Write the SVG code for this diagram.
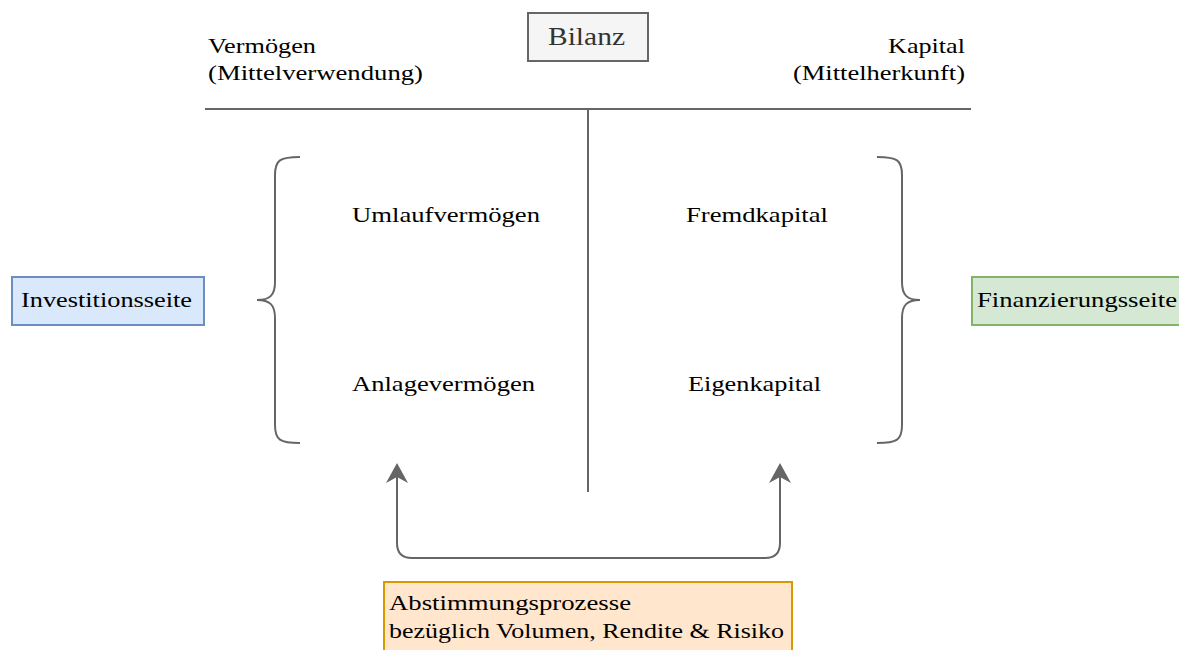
<svg xmlns="http://www.w3.org/2000/svg" width="1179" height="650" viewBox="0 0 1179 650">
<defs>
<style>
.t{font-family:"Liberation Serif","DejaVu Serif",serif;font-size:22px;fill:#000}
.ln{fill:none;stroke:#666;stroke-width:2}
</style>
<marker id="arr" viewBox="0 0 20 22" markerWidth="20" markerHeight="22" refX="13" refY="11" markerUnits="userSpaceOnUse" orient="auto-start-reverse">
<path d="M0,0 L20,11 L0,22 L6,11 z" fill="#666"/>
</marker>
</defs>
<rect width="1179" height="650" fill="#fff"/>
<g id="bilanz">
<rect x="528" y="13" width="120" height="48" fill="#f5f5f5" stroke="#666" stroke-width="2"/>
<text class="t" x="548" y="45" style="font-size:25px;fill:#333" textLength="77" lengthAdjust="spacingAndGlyphs">Bilanz</text>
</g>
<g id="vermoegen">
<text class="t" x="208" y="53" textLength="108" lengthAdjust="spacingAndGlyphs">Vermögen</text>
<text class="t" x="208" y="80" textLength="215" lengthAdjust="spacingAndGlyphs">(Mittelverwendung)</text>
</g>
<g id="kapital">
<text class="t" x="888" y="53" textLength="77" lengthAdjust="spacingAndGlyphs">Kapital</text>
<text class="t" x="793" y="80" textLength="172" lengthAdjust="spacingAndGlyphs">(Mittelherkunft)</text>
</g>
<g id="lines">
<line class="ln" x1="205" y1="109" x2="971" y2="109"/>
<line class="ln" x1="588" y1="109" x2="588" y2="492"/>
</g>
<g id="umlauf"><text class="t" x="352" y="222" textLength="188" lengthAdjust="spacingAndGlyphs">Umlaufvermögen</text></g>
<g id="fremd"><text class="t" x="686" y="222" textLength="142" lengthAdjust="spacingAndGlyphs">Fremdkapital</text></g>
<g id="anlage"><text class="t" x="352" y="391" textLength="183" lengthAdjust="spacingAndGlyphs">Anlagevermögen</text></g>
<g id="eigen"><text class="t" x="688" y="391" textLength="133" lengthAdjust="spacingAndGlyphs">Eigenkapital</text></g>
<g id="brace-left">
<path class="ln" d="M300,157 C280,157 275,160 275,175 L275,282 C275,295 270,300 257,300 C270,300 275,305 275,318 L275,425 C275,440 280,443 300,443"/>
</g>
<g id="brace-right">
<path class="ln" d="M877,157 C897,157 902,160 902,175 L902,282 C902,295 907,300 920,300 C907,300 902,305 902,318 L902,425 C902,440 897,443 877,443"/>
</g>
<g id="investition">
<rect x="12" y="277" width="192" height="48" fill="#dae8fc" stroke="#6c8ebf" stroke-width="2"/>
<text class="t" x="21" y="307" textLength="171" lengthAdjust="spacingAndGlyphs">Investitionsseite</text>
</g>
<g id="finanzierung">
<rect x="972" y="277" width="230" height="48" fill="#d5e8d4" stroke="#82b366" stroke-width="2"/>
<text class="t" x="977" y="307" textLength="200" lengthAdjust="spacingAndGlyphs">Finanzierungsseite</text>
</g>
<g id="connectors">
<path class="ln" d="M397,470 L397,543 Q397,558 412,558 L765,558 Q780,558 780,543 L780,470" marker-start="url(#arr)" marker-end="url(#arr)"/>
</g>
<g id="abstimmung">
<rect x="384" y="582" width="408" height="80" fill="#ffe6cc" stroke="#d79b00" stroke-width="2"/>
<text class="t" x="389" y="610" textLength="242" lengthAdjust="spacingAndGlyphs">Abstimmungsprozesse</text>
<text class="t" x="389" y="638" textLength="395" lengthAdjust="spacingAndGlyphs">bezüglich Volumen, Rendite &amp; Risiko</text>
</g>
</svg>
